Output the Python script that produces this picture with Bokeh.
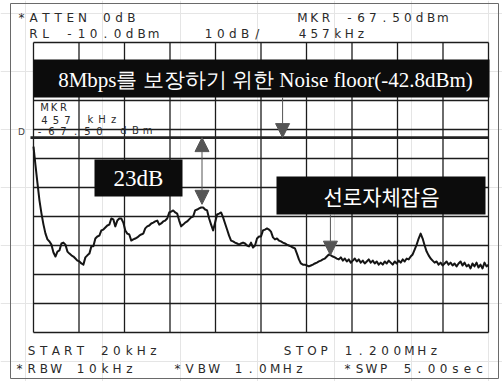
import numpy as np
from bokeh.plotting import figure
from bokeh.models import Range1d, Arrow, NormalHead
from bokeh.core.properties import value
from bokeh.embed import file_html
from bokeh.resources import INLINE

# Analyzer settings
START_KHZ = 20.0
STOP_KHZ = 1200.0
REF_LEVEL_DBM = -10.0
DB_PER_DIV = 10.0
N_XDIV = 10
N_YDIV = 10
ATTEN_DB = 0
RBW_KHZ = 10
VBW_MHZ = 1.0
SWEEP_S = 5.00

# Swept trace level (dBm), one reading per sweep point from START to STOP
level_dbm = [
    -45.9, -52.4, -58.6, -64.5, -69.0, -72.8, -75.9, -77.9, -78.6, -79.7,
    -82.4, -83.8, -82.1, -81.7, -79.3, -79.0, -79.7, -82.1, -82.8, -83.4,
    -83.8, -84.5, -85.2, -85.5, -86.2, -86.6, -84.1, -83.4, -82.8, -80.3,
    -80.3, -77.6, -76.9, -76.6, -74.8, -74.5, -73.8, -73.1, -72.8, -70.7,
    -71.0, -73.4, -71.4, -70.7, -70.7, -72.1, -74.8, -75.9, -76.2, -78.3,
    -77.9, -77.6, -77.2, -76.6, -76.2, -75.9, -74.1, -73.4, -73.1, -72.4,
    -72.1, -71.7, -71.4, -72.8, -72.4, -71.7, -71.4, -70.7, -68.6, -68.3,
    -67.9, -68.6, -69.0, -71.4, -73.4, -72.8, -72.1, -71.7, -71.0, -70.3,
    -70.0, -67.9, -67.6, -67.2, -66.9, -66.9, -67.6, -67.9, -70.7, -72.8,
    -74.8, -72.1, -69.3, -69.0, -68.6, -70.3, -72.4, -74.5, -76.6, -78.3,
    -78.6, -79.0, -79.3, -79.7, -79.3, -79.0, -79.3, -80.0, -80.3, -79.0,
    -80.7, -80.0, -77.6, -76.9, -76.9, -74.8, -74.5, -74.1, -74.5, -75.2,
    -77.2, -77.9, -77.6, -78.3, -78.6, -79.0, -79.3, -79.7, -80.0, -80.3,
    -80.7, -81.0, -82.8, -84.8, -86.2, -86.6, -86.6, -86.9, -87.2, -86.9,
    -86.6, -86.2, -85.9, -85.5, -85.2, -84.8, -84.5, -83.8, -83.1, -83.4,
    -83.8, -84.1, -84.5,
    -84.8, -84.1, -85.2, -84.5, -85.5, -84.8, -85.9, -85.2, -84.5, -85.5,
    -84.8, -85.9, -85.2, -86.2, -85.5, -84.8, -85.9, -85.2, -86.2, -85.5,
    -86.6, -85.9, -86.6, -85.5, -86.2, -85.2, -85.9, -86.6, -85.5, -86.2,
    -85.2, -85.9, -84.8, -85.5, -84.5, -84.8, -83.8, -83.1, -81.4, -79.7,
    -77.6, -75.9, -77.6, -80.0, -82.1, -83.4, -84.5, -85.2, -85.9, -85.5,
    -86.6, -85.9, -86.9, -86.2, -85.5, -86.6, -85.9, -86.9, -86.2, -87.2,
    -86.2, -85.5, -86.9, -85.9, -87.2, -86.6, -87.9, -86.2, -87.2, -85.9,
    -87.6, -86.6, -87.9, -85.9, -87.2, -86.6,
]
freq_khz = np.linspace(START_KHZ, STOP_KHZ, len(level_dbm))

# Markers and annotations
marker_khz = 457
marker_dbm = -67.50
noise_floor_dbm = -42.8
margin_db = 23
line_noise_khz = 790
line_noise_dbm = float(np.interp(line_noise_khz, freq_khz, level_dbm))

# Canvas layout (pixels)
W, H = 502, 381
GX0, GX1, GY0, GY1 = 33, 488, 42, 332

kpp = (STOP_KHZ - START_KHZ) / (GX1 - GX0)
dpp = DB_PER_DIV * N_YDIV / (GY1 - GY0)
BOTTOM_DBM = REF_LEVEL_DBM - N_YDIV * DB_PER_DIV

p = figure(
    width=W, height=H,
    x_range=Range1d(START_KHZ - GX0 * kpp, STOP_KHZ + (W - GX1) * kpp),
    y_range=Range1d(REF_LEVEL_DBM - (H - GY0) * dpp, REF_LEVEL_DBM + GY0 * dpp),
    output_backend="svg", toolbar_location=None,
    x_axis_location=None, y_axis_location=None,
    min_border=0, outline_line_color=None,
    background_fill_color="white", border_fill_color="white",
)
p.extra_x_ranges = {"px": Range1d(0, W)}
p.extra_y_ranges = {"px": Range1d(H, 0)}
PX = dict(x_range_name="px", y_range_name="px")

INK = "#1c1c1c"
HP_FONT = value("DejaVu Sans")

# outer frame of the screen
p.quad(left=10, right=498, top=3, bottom=378, fill_color=None,
       line_color="#6a6a6a", line_width=1, **PX)

# graticule
xt = START_KHZ + np.arange(N_XDIV + 1) * (STOP_KHZ - START_KHZ) / N_XDIV
yt = REF_LEVEL_DBM - np.arange(N_YDIV + 1) * DB_PER_DIV
p.segment(x0=xt, y0=BOTTOM_DBM, x1=xt, y1=REF_LEVEL_DBM, line_color=INK, line_width=1.3)
p.segment(x0=START_KHZ, y0=yt, x1=STOP_KHZ, y1=yt, line_color=INK, line_width=1.3)

# required noise floor line
p.line(x=[START_KHZ - 3 * kpp, STOP_KHZ], y=[noise_floor_dbm, noise_floor_dbm],
       line_color="#222222", line_width=2.6)

# trace
p.line(freq_khz, level_dbm, line_color="#151515", line_width=2.0, line_join="round")


def spaced(s, left, y, adv):
    xs, ys, cs = [], [], []
    for i, ch in enumerate(s):
        if ch != " ":
            xs.append(left + 4 + i * adv)
            ys.append(y)
            cs.append(ch)
    return xs, ys, cs


def hp_text(s, left, y, adv=12.2, size="12px"):
    xs, ys, cs = spaced(s, left, y, adv)
    p.text(x=xs, y=ys, text=cs, text_font=HP_FONT, text_font_size=size,
           text_align="center", text_baseline="middle", text_color="#2a2a2a", **PX)


# screen annotations
hp_text(f"*ATTEN {ATTEN_DB}dB", 17, 17)
hp_text(f"MKR {marker_dbm:.2f}dBm", 298, 17, adv=11.7)
hp_text(f"RL {REF_LEVEL_DBM:.1f}dBm", 29, 33, adv=12.0)
hp_text(f"{DB_PER_DIV:.0f}dB/", 204, 33)
hp_text(f"{marker_khz}kHz", 298, 33, adv=11.7)
hp_text(f"START {START_KHZ:.0f}kHz", 27, 350)
hp_text(f"STOP {STOP_KHZ / 1000:.3f}MHz", 283, 350)
hp_text(f"*RBW {RBW_KHZ}kHz", 15, 368)
hp_text(f"*VBW {VBW_MHZ:.1f}MHz", 173, 368)
hp_text(f"*SWP {SWEEP_S:.2f}sec", 343, 368, adv=12.0)
hp_text("MKR", 40, 107, adv=9.5, size="10px")
hp_text(f"{marker_khz} kHz", 40, 119, adv=11.5, size="10px")
hp_text(f"{marker_dbm:.2f} dBm", 35, 130, adv=12.0, size="10px")
p.text(x=[21], y=[131], text=["D"], text_font=HP_FONT, text_font_size="9px",
       text_align="center", text_baseline="middle", text_color="#444444", **PX)

# black caption boxes
p.quad(left=[33, 94, 276], right=[489, 182, 485], top=[59, 159, 176],
       bottom=[97, 196, 214], fill_color="#0c0c0c", line_color=None, **PX)
p.text(x=[265], y=[79], text=[f"8Mbps를 보장하기 위한 Noise floor({noise_floor_dbm}dBm)"],
       text_font=value("Liberation Serif"), text_font_size="21px", text_color="white",
       text_align="center", text_baseline="middle", **PX)
p.text(x=[138], y=[178], text=[f"{margin_db}dB"],
       text_font=value("Liberation Serif"), text_font_size="23px", text_color="white",
       text_align="center", text_baseline="middle", **PX)
p.text(x=[381], y=[195], text=["선로자체잡음"],
       text_font=value("Noto Sans CJK KR"), text_font_size="21px", text_color="white",
       text_align="center", text_baseline="middle", **PX)

# arrows and marker heads
GRAY = "#555555"
BAR_BOTTOM_DBM = REF_LEVEL_DBM - (97 - GY0) * dpp
BOX_BOTTOM_DBM = REF_LEVEL_DBM - (214 - GY0) * dpp
p.add_layout(Arrow(
    start=NormalHead(size=14, fill_color=GRAY, line_color=GRAY),
    end=NormalHead(size=14, fill_color=GRAY, line_color=GRAY),
    x_start=marker_khz, y_start=noise_floor_dbm,
    x_end=marker_khz, y_end=noise_floor_dbm - margin_db,
    line_color=GRAY, line_width=1))
p.add_layout(Arrow(
    end=NormalHead(size=14, fill_color=GRAY, line_color=GRAY),
    x_start=666, y_start=BAR_BOTTOM_DBM, x_end=666, y_end=noise_floor_dbm,
    line_color=GRAY, line_width=1))
p.add_layout(Arrow(
    end=NormalHead(size=14, fill_color=GRAY, line_color=GRAY),
    x_start=line_noise_khz, y_start=BOX_BOTTOM_DBM, x_end=line_noise_khz, y_end=line_noise_dbm,
    line_color=GRAY, line_width=1))

open("out.html", "w").write(file_html(p, INLINE))
